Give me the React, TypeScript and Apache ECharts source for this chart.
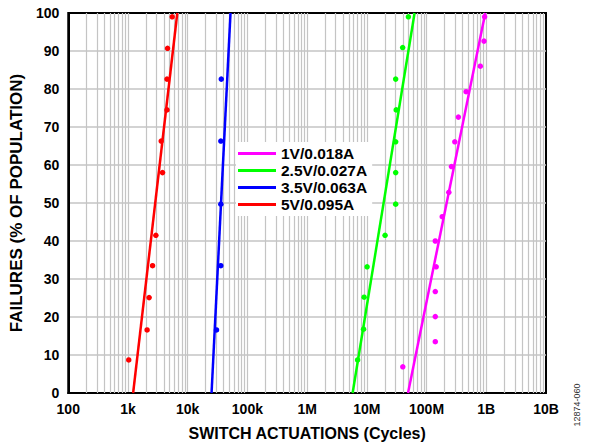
import React, { useEffect, useRef } from "react";
import * as echarts from "echarts";

const seriesNames = ["1V/0.018A", "2.5V/0.027A", "3.5V/0.063A", "5V/0.095A"];
const seriesColors = ["#ff00ff", "#00ff00", "#0000ff", "#ff0000"];

// measured points: cycles (x) and failures % (y)
const magentaX = [40e6, 140e6, 140e6, 140e6, 145e6, 140e6, 183e6, 236e6, 261e6, 297e6, 341e6, 459e6, 794e6, 916e6, 937e6];
const magentaY = [6.9, 13.5, 20.1, 26.7, 33.2, 40, 46.4, 52.8, 59.6, 66.1, 72.6, 79.3, 86, 92.6, 99];
const greenX = [7.0e6, 8.8e6, 9.0e6, 10.1e6, 20.2e6, 30.4e6, 30.4e6, 30.4e6, 31e6, 30.4e6, 39.8e6, 49.6e6];
const greenY = [8.7, 16.8, 25.2, 33.2, 41.5, 49.7, 58, 66.1, 74.5, 82.6, 90.9, 99];
const blueX = [30.4e3, 35.9e3, 35.9e3, 35.9e3, 36.5e3];
const blueY = [16.6, 33.5, 49.7, 66.3, 82.6];
const redX = [1.03e3, 2.09e3, 2.26e3, 2.58e3, 2.93e3, 3.79e3, 3.6e3, 4.5e3, 4.5e3, 4.6e3, 5.5e3];
const redY = [8.7, 16.6, 25.1, 33.5, 41.5, 58, 66.3, 74.5, 82.6, 90.7, 99];

// fitted lines: cycles at 0% and at 100%
const fitStartX = [48.9e6, 5.78e6, 25.1e3, 1.22e3];
const fitEndX = [962e6, 63e6, 52.1e3, 6.7e3];
const fitY = [0, 100];

const xTickLabels: Record<string, string> = {
  "100": "100", "1000": "1k", "10000": "10k", "100000": "100k", "1000000": "1M",
  "10000000": "10M", "100000000": "100M", "1000000000": "1B", "10000000000": "10B",
};
const minorFactors = [2, 3, 4, 5, 6, 7, 8, 9];
const decades = [1e2, 1e3, 1e4, 1e5, 1e6, 1e7, 1e8, 1e9];

const FONT = "'Liberation Sans', Arial, sans-serif";

export default function App() {
  const ref = useRef<HTMLDivElement>(null);
  useEffect(() => {
    if (!ref.current) return;
    const chart = echarts.init(ref.current, undefined, { renderer: "svg" });
    const pointSets = [
      [magentaX, magentaY],
      [greenX, greenY],
      [blueX, blueY],
      [redX, redY],
    ];
    const minorLines: any[] = [];
    decades.forEach((d) => minorFactors.forEach((f) => minorLines.push({ xAxis: d * f })));

    const series: any[] = [
      {
        type: "scatter",
        name: "_grid",
        data: [],
        z: 1,
        silent: true,
        markLine: {
          silent: true,
          z: 1,
          symbol: "none",
          animation: false,
          label: { show: false },
          lineStyle: { color: "#c4c4c4", width: 1.2, type: "solid" },
          data: minorLines,
        },
      },
    ];
    seriesNames.forEach((n, i) => {
      series.push({
        type: "line",
        name: n,
        z: 3,
        symbol: "none",
        lineStyle: { color: seriesColors[i], width: 2.5 },
        itemStyle: { color: seriesColors[i] },
        data: [
          [fitStartX[i], fitY[0]],
          [fitEndX[i], fitY[1]],
        ],
      });
    });
    seriesNames.forEach((n, i) => {
      const [xs, ys] = pointSets[i];
      series.push({
        type: "scatter",
        name: n,
        z: 4,
        symbolSize: 5.5,
        itemStyle: { color: seriesColors[i], opacity: 1 },
        data: xs.map((x, k) => [x, ys[k]]),
      });
    });

    chart.setOption({
      animation: false,
      grid: {
        left: 67,
        right: 43,
        top: 13,
        bottom: 53,
        show: true,
        borderColor: "#000",
        borderWidth: 2,
        backgroundColor: "#fff",
      },
      legend: {
        orient: "vertical",
        left: 236,
        top: 142,
        z: 10,
        backgroundColor: "#fff",
        padding: [3, 5, 3, 2],
        itemWidth: 38,
        itemHeight: 3,
        itemGap: 0,
        textStyle: { fontFamily: FONT, fontWeight: "bold", fontSize: 15.5, color: "#000", lineHeight: 17 },
        data: seriesNames.map((n) => ({ name: n, icon: "rect" })),
      },
      xAxis: {
        type: "log",
        logBase: 10,
        min: 100,
        max: 1e10,
        name: "SWITCH ACTUATIONS (Cycles)",
        nameLocation: "middle",
        nameGap: 32,
        nameTextStyle: { fontFamily: FONT, fontWeight: "bold", fontSize: 16, color: "#000" },
        axisLine: { lineStyle: { color: "#000", width: 2 } },
        axisTick: { show: false },
        axisLabel: {
          margin: 9,
          fontFamily: FONT,
          fontWeight: "bold",
          fontSize: 14,
          color: "#000",
          formatter: (v: number) => xTickLabels[String(Math.round(v))] ?? "",
        },
        splitLine: { show: true, showMinLine: false, showMaxLine: false, lineStyle: { color: "#c4c4c4", width: 1.2 } },
      },
      yAxis: {
        type: "value",
        min: 0,
        max: 100,
        interval: 10,
        name: "FAILURES (% OF POPULATION)",
        nameLocation: "middle",
        nameGap: 43,
        nameTextStyle: { fontFamily: FONT, fontWeight: "bold", fontSize: 17, color: "#000" },
        axisLine: { show: true, lineStyle: { color: "#000", width: 2 } },
        axisTick: { show: false },
        axisLabel: { margin: 9, fontFamily: FONT, fontWeight: "bold", fontSize: 14, color: "#000" },
        splitLine: { show: true, showMinLine: false, showMaxLine: false, lineStyle: { color: "#c4c4c4", width: 1.5 } },
      },
      graphic: [
        {
          type: "text",
          x: 577,
          y: 405,
          rotation: Math.PI / 2,
          style: {
            text: "12874-060",
            fontFamily: FONT,
            fontSize: 9,
            fill: "#333",
            textAlign: "center",
            textVerticalAlign: "middle",
          },
        },
      ],
      series,
    });
    return () => chart.dispose();
  }, []);
  return <div ref={ref} style={{ width: 589, height: 446, position: "absolute", left: 0, top: 0 }} />;
}
